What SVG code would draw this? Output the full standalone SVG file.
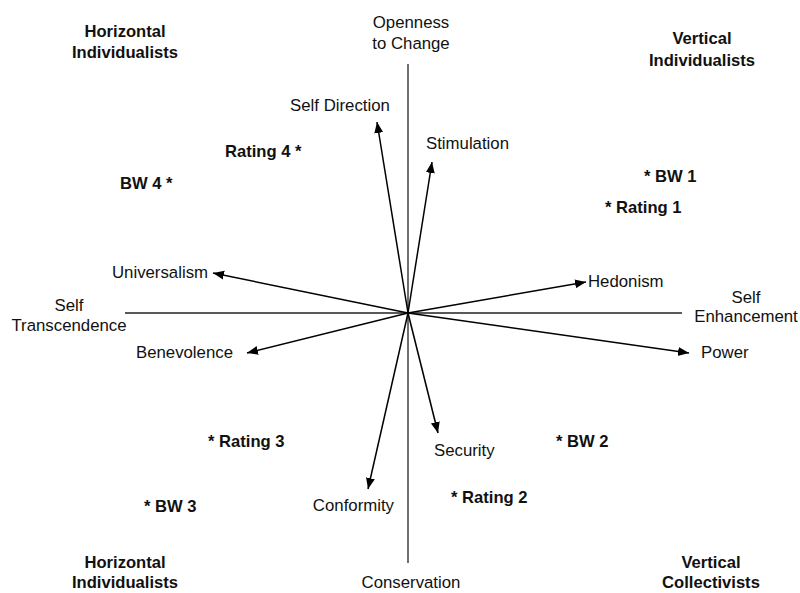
<svg xmlns="http://www.w3.org/2000/svg" width="800" height="593" viewBox="0 0 800 593">
<style>
text{font-family:"Liberation Sans",Arial,sans-serif;font-size:16.8px;fill:#111}
.b{font-weight:bold;font-size:16.6px}
.m{text-anchor:middle}
.e{text-anchor:end}
.axis{stroke:#222;stroke-width:1.3;fill:none}
.arr{stroke:#000;stroke-width:1.5;fill:none;marker-end:url(#ah)}
</style>
<defs>
<marker id="ah" markerUnits="userSpaceOnUse" markerWidth="12" markerHeight="10" refX="11" refY="4.5" orient="auto">
<path d="M0,0 L11,4.5 L0,9 z" fill="#000"/>
</marker>
</defs>
<g id="connectors">
<line class="axis" x1="408" y1="64" x2="408" y2="563"/>
<line class="axis" x1="125" y1="313" x2="682" y2="313"/>
<line class="arr" x1="408" y1="313" x2="377" y2="122"/>
<line class="arr" x1="408" y1="313" x2="432" y2="162"/>
<line class="arr" x1="408" y1="313" x2="213" y2="273"/>
<line class="arr" x1="408" y1="313" x2="247" y2="353"/>
<line class="arr" x1="408" y1="313" x2="586" y2="282"/>
<line class="arr" x1="408" y1="313" x2="689" y2="353"/>
<line class="arr" x1="408" y1="313" x2="438" y2="433"/>
<line class="arr" x1="408" y1="313" x2="368" y2="489"/>
</g>
<g id="openness"><text class="m" x="411" y="28">Openness</text><text class="m" x="411" y="49">to Change</text></g>
<g id="conservation"><text class="m" x="411" y="588">Conservation</text></g>
<g id="self-transcendence"><text class="m" x="69" y="311">Self</text><text class="m" x="69" y="331">Transcendence</text></g>
<g id="self-enhancement"><text class="m" x="746" y="303">Self</text><text class="m" x="746" y="322">Enhancement</text></g>
<g id="q-hi-top"><text class="b m" x="125" y="37">Horizontal</text><text class="b m" x="125" y="58">Individualists</text></g>
<g id="q-vi-top"><text class="b m" x="702" y="44">Vertical</text><text class="b m" x="702" y="66">Individualists</text></g>
<g id="q-hi-bottom"><text class="b m" x="125" y="568">Horizontal</text><text class="b m" x="125" y="588">Individualists</text></g>
<g id="q-vc-bottom"><text class="b m" x="711" y="568">Vertical</text><text class="b m" x="711" y="588">Collectivists</text></g>
<g id="self-direction"><text class="m" x="340" y="111">Self Direction</text></g>
<g id="stimulation"><text x="426" y="149">Stimulation</text></g>
<g id="universalism"><text class="e" x="208" y="278">Universalism</text></g>
<g id="benevolence"><text class="e" x="233" y="358">Benevolence</text></g>
<g id="hedonism"><text x="588" y="287">Hedonism</text></g>
<g id="power"><text x="701" y="358">Power</text></g>
<g id="security"><text x="434" y="456">Security</text></g>
<g id="conformity"><text class="e" x="394" y="511">Conformity</text></g>
<g id="rating4"><text class="b" x="225" y="157">Rating 4 *</text></g>
<g id="bw4"><text class="b" x="120" y="189">BW 4 *</text></g>
<g id="bw1"><text class="b" x="644" y="182">* BW 1</text></g>
<g id="rating1"><text class="b" x="605" y="213">* Rating 1</text></g>
<g id="rating3"><text class="b" x="208" y="447">* Rating 3</text></g>
<g id="bw3"><text class="b" x="144" y="512">* BW 3</text></g>
<g id="bw2"><text class="b" x="556" y="447">* BW 2</text></g>
<g id="rating2"><text class="b" x="451" y="503">* Rating 2</text></g>
</svg>
